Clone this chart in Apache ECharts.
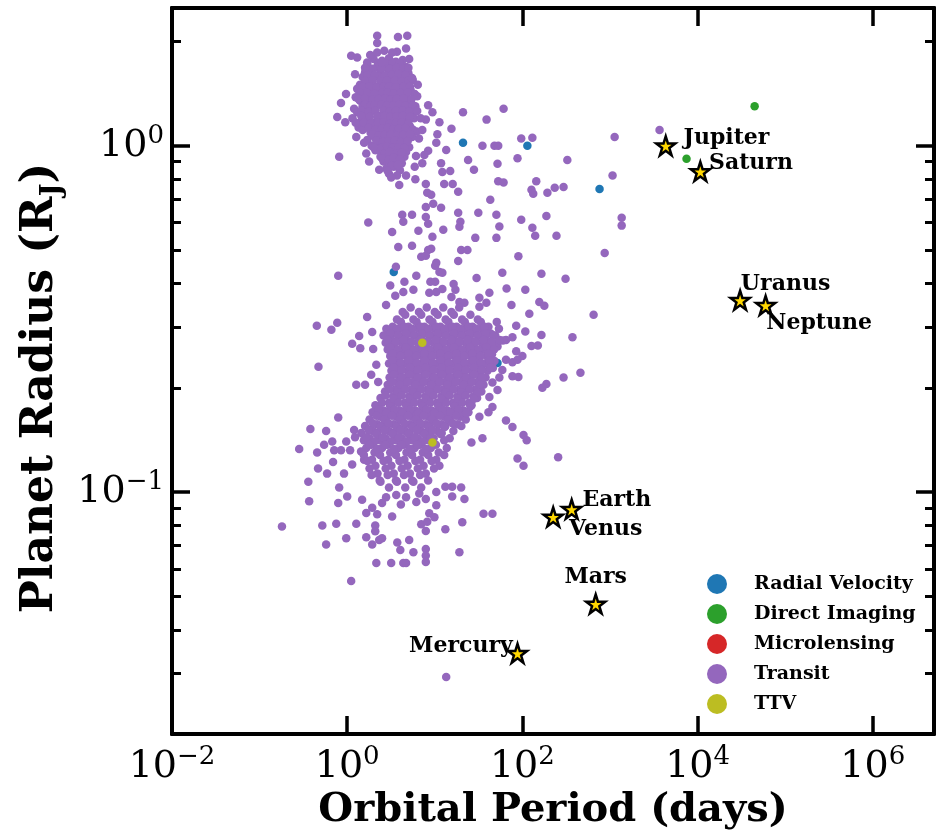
<!DOCTYPE html>
<html>
<head>
    <meta charset="UTF-8"/>
    <title>Planet radius vs orbital period</title>
    <style>
        html, body{
            margin: 0;
            background: #fff;
        }
    </style>
    <script src="https://cdn.jsdelivr.net/npm/echarts@6/dist/echarts.min.js"></script>
</head>
<body>
<div id="container" style="width: 937px;height: 838px;"></div>

<script>
  // axis ranges and ticks
  var xMin = 0.01, xMax = 5e6;
  var yMin = 0.02, yMax = 2.5;
  var xMajorTicks = [0.01, 1, 100, 1e4, 1e6];
  var yMajorTicks = [0.1, 1];
  var yMinorTicks = [0.02, 0.03, 0.04, 0.05, 0.06, 0.07, 0.08, 0.09, 0.2, 0.3, 0.4, 0.5, 0.6, 0.7, 0.8, 0.9, 2];

  var methodNames = ['Radial Velocity', 'Direct Imaging', 'Microlensing', 'Transit', 'TTV'];
  var methodColors = ['#1f77b4', '#2ca02c', '#d62728', '#9467bd', '#bcbd22'];

  // [period (days), radius (R_J)]
  var radialVelocity = [[21, 1.02], [114, 1.0], [760, 0.75], [3.4, 0.432], [52, 0.236]];
  var directImaging = [[44800, 1.30], [7480, 0.917]];
  var microlensing = [];
  var ttv = [[7.2, 0.27], [9.4, 0.139]];

  var transit = [
    // hot jupiters
    [2.0,1.78],[2.5,1.76],[3.0,1.79],[3.6,1.75],[4.3,1.77],
    [1.7,1.71],[2.2,1.69],[2.8,1.72],[3.3,1.68],[4.0,1.71],[4.7,1.69],
    [1.6,1.63],[1.9,1.66],[2.4,1.62],[3.0,1.65],[3.5,1.63],[4.2,1.66],[5.0,1.62],
    [1.5,1.58],[1.8,1.56],[2.2,1.59],[2.6,1.55],[3.2,1.58],[3.8,1.56],[4.5,1.59],[5.6,1.55],
    [1.4,1.5],[1.7,1.53],[2.0,1.49],[2.4,1.52],[2.9,1.5],[3.4,1.53],[4.1,1.49],[5.0,1.52],
    [1.3,1.46],[1.6,1.44],[1.9,1.47],[2.3,1.43],[2.7,1.46],[3.1,1.44],[3.7,1.47],[4.4,1.43],[5.3,1.45],
    [1.25,1.38],[1.5,1.41],[1.8,1.37],[2.1,1.4],[2.5,1.38],[2.9,1.41],[3.4,1.37],[4.0,1.4],[4.8,1.38],[5.9,1.41],
    [1.4,1.35],[1.7,1.33],[2.0,1.36],[2.3,1.32],[2.7,1.35],[3.2,1.33],[3.7,1.36],[4.4,1.32],[5.2,1.34],
    [1.2,1.28],[1.5,1.3],[1.85,1.27],[2.2,1.31],[2.6,1.28],[3.0,1.3],[3.5,1.27],[4.1,1.31],[4.9,1.28],[6.0,1.3],
    [1.3,1.25],[1.6,1.23],[1.9,1.26],[2.4,1.22],[2.8,1.25],[3.3,1.23],[3.9,1.26],[4.6,1.22],[5.5,1.24],
    [1.15,1.2],[1.45,1.18],[1.75,1.21],[2.1,1.17],[2.5,1.2],[2.9,1.18],[3.4,1.21],[4.0,1.17],[4.8,1.19],[5.8,1.2],
    [1.35,1.13],[1.65,1.15],[2.0,1.12],[2.35,1.16],[2.75,1.13],[3.2,1.15],[3.75,1.12],[4.4,1.16],[5.2,1.14],
    [1.5,1.11],[1.85,1.09],[2.2,1.12],[2.6,1.08],[3.0,1.11],[3.5,1.09],[4.1,1.12],[4.9,1.08],[6.2,1.1],
    [1.7,1.04],[2.05,1.06],[2.4,1.03],[2.8,1.07],[3.3,1.04],[3.9,1.06],[4.6,1.03],[5.5,1.06],
    [1.9,1.0],[2.3,1.02],[2.7,0.99],[3.1,1.02],[3.6,1.0],[4.3,1.02],[5.1,0.99],
    [2.1,0.97],[2.5,0.96],[2.9,0.98],[3.4,0.95],[4.0,0.97],[4.7,0.96],
    [2.4,0.93],[2.8,0.94],[3.2,0.92],[3.8,0.94],[4.5,0.93],
    [2.6,0.9],[3.1,0.89],[3.6,0.91],[4.2,0.89],
    [2.8,0.86],[3.4,0.87],[4.0,0.85],[3.0,0.83],[3.7,0.82],
    [2.25,1.735],[2.75,1.73],[3.3,1.74],[3.95,1.73],
    [1.95,1.67],[2.5,1.675],[3.05,1.665],[3.65,1.68],[4.35,1.67],
    [1.7,1.6],[2.05,1.605],[2.7,1.595],[3.25,1.6],[3.85,1.61],[4.6,1.6],
    [1.6,1.54],[1.95,1.545],[2.4,1.535],[2.85,1.54],[3.5,1.545],[4.2,1.535],[5.0,1.54],
    [1.5,1.48],[1.8,1.485],[2.15,1.475],[2.6,1.48],[3.0,1.485],[3.6,1.475],[4.4,1.48],[5.2,1.485],
    [1.4,1.42],[1.7,1.425],[2.05,1.415],[2.5,1.42],[2.9,1.425],[3.4,1.415],[4.1,1.42],[4.9,1.425],
    [1.35,1.365],[1.6,1.37],[1.95,1.36],[2.3,1.365],[2.7,1.37],[3.15,1.36],[3.7,1.365],[4.4,1.37],[5.4,1.36],
    [1.6,1.315],[1.85,1.305],[2.05,1.31],[2.45,1.315],[2.85,1.305],[3.35,1.31],[3.9,1.315],[4.6,1.305],[5.6,1.31],
    [1.45,1.265],[1.75,1.255],[2.1,1.26],[2.6,1.265],[3.05,1.255],[3.6,1.26],[4.3,1.265],[5.1,1.255],[6.3,1.26],
    [1.45,1.22],[1.8,1.21],[2.2,1.215],[2.65,1.22],[3.1,1.21],[3.65,1.215],[4.3,1.22],[5.2,1.21],
    [1.25,1.165],[1.55,1.17],[1.85,1.16],[2.25,1.165],[2.6,1.17],[3.05,1.16],[3.6,1.165],[4.2,1.17],[5.0,1.16],
    [1.75,1.125],[2.1,1.115],[2.5,1.12],[2.9,1.125],[3.35,1.115],[3.9,1.12],[4.6,1.125],[5.6,1.115],
    [1.95,1.08],[2.3,1.07],[2.7,1.075],[3.15,1.08],[3.7,1.07],[4.35,1.075],[5.2,1.08],
    [2.15,1.035],[2.55,1.025],[2.95,1.03],[3.5,1.035],[4.1,1.025],[4.9,1.03],
    [2.0,0.99],[2.45,0.985],[2.85,0.995],[3.3,0.985],[3.85,0.99],[4.5,0.985],
    [2.65,0.95],[3.05,0.96],[3.6,0.95],[4.2,0.955],
    [2.5,0.92],[3.0,0.915],[3.4,0.925],[4.0,0.915],
    [3.2,0.875],[3.8,0.88],[2.9,0.845],
    // around the hot jupiters
    [2.2,2.08],[3.8,2.06],[4.85,2.08],[2.2,1.98],[3.7,1.87],[4.7,1.91],[1.11,1.82],[1.3,1.8],[1.83,1.83],
    [2.2,1.86],[2.65,1.88],[3.26,1.86],[1.69,1.74],[2.5,1.74],[5.1,1.78],[1.23,1.61],[1.6,1.68],[5.5,1.57],
    [5.0,1.68],[0.97,1.41],[0.85,1.33],[0.77,1.21],[0.95,1.17],[0.81,0.93],[1.27,1.06],[1.56,1.02],[1.65,0.95],
    [1.78,0.9],[2.32,0.853],[3.18,0.81],[3.93,0.77],[4.7,0.82],[6.0,0.8],[7.9,0.776],[11.8,0.89],[15,0.846],
    [7.2,0.89],[6.1,0.935],[13.5,0.973],[24,0.91],[28,0.853],[15.5,1.12],[21,1.25],[11.3,1.17],[10.7,1.08],
    [9.4,1.25],[8.4,1.31],[7.9,1.19],[10.4,1.02],[8.4,0.967],[7.2,1.11],[6.3,1.39],[7.6,0.94],[12.2,0.84],
    [12.8,0.776],[16,0.776],[6.9,1.2],[6.6,1.05],[6.4,1.5],[5.9,0.87],
    // long period scatter
    [61,1.28],[39,1.19],[97,1.05],[130,1.055],[35,1.0],[48,1.0],[53,1.0],[1130,1.06],[88,0.92],[326,0.91],
    [52,0.887],[1070,0.82],[53,0.79],[61,0.783],[144,0.79],[127,0.746],[133,0.727],[193,0.732],[234,0.756],
    [295,0.76],[43,0.698],[54.6,0.585],[97,0.611],[188,0.627],[130,0.58],[140,0.55],[245,0.55],[1360,0.62],
    [1360,0.588],[90,0.48],[870,0.49],[30,0.415],[59,0.43],[165,0.427],[311,0.413],[66,0.387],[108,0.384],
    [156,0.354],[178,0.345],[120,0.327],[650,0.325],[85,0.302],[108,0.291],[165,0.284],[373,0.28],[127,0.264],
    [150,0.265],[85,0.255],[100,0.247],[460,0.221],[295,0.214],[188,0.205],[169,0.2],[90,0.215],[77,0.216],
    [65,0.241],[77,0.237],[59,0.225],[3680,1.11],
    // between the two clusters
    [1.74,0.6],[3.26,0.564],[3.83,0.51],[5.5,0.514],[4.25,0.632],[4.37,0.603],[5.5,0.632],[6.5,0.568],
    [7.9,0.623],[8.4,0.595],[7.9,0.666],[9.6,0.68],[11.8,0.662],[9.4,0.546],[12.5,0.572],[8.4,0.5],[9.1,0.504],
    [7.0,0.478],[10.4,0.459],[18.5,0.465],[18.5,0.641],[19.6,0.603],[19.1,0.584],[31.4,0.641],[50.5,0.632],
    [29,0.542],[50.5,0.542],[20,0.5],[23.6,0.5],[8.2,0.732],[9.1,0.722],[18.5,0.736],
    [6.15,0.421],[0.79,0.421],[10.1,0.45],[11.3,0.432],[12.2,0.43],[16.4,0.399],[17.2,0.384],[4.37,0.378],
    [5.7,0.384],[3.54,0.369],[2.78,0.347],[8.65,0.376],[10.4,0.378],[12.2,0.386],[15.5,0.366],[19.1,0.354],
    [21.8,0.352],[32.3,0.364],[42,0.376],[32.3,0.343],[38.8,0.352],[75,0.347],[7.9,0.481],[3.6,0.447],
    [4.5,0.405],[3.1,0.395],[8.9,0.405],[10.1,0.405],
    // edges of the small planet cluster
    [1.69,0.32],[0.45,0.302],[0.66,0.294],[0.77,0.308],[1.14,0.268],[1.37,0.282],[1.41,0.26],[1.93,0.29],
    [1.98,0.259],[0.47,0.23],[1.27,0.204],[1.6,0.204],[2.26,0.208],[1.88,0.218],[2.15,0.233],[77,0.28],
    [65,0.275],[52,0.263],[88,0.241],[54.6,0.214],[45.5,0.207],[52,0.197],[42,0.188],[45.5,0.176],[41,0.17],
    [32.3,0.165],[65,0.161],[77,0.154],[103,0.146],[112,0.141],[35,0.143],[26.2,0.139],[88,0.125],[103,0.119],
    [36,0.0865],[45.5,0.0865],[20.6,0.0818],[13.2,0.078],[7.9,0.0771],[7.0,0.0807],[256,0.126],
    [0.38,0.152],[0.575,0.15],[0.79,0.164],[0.283,0.133],[0.454,0.13],[0.545,0.137],[0.675,0.14],[0.71,0.132],
    [0.85,0.132],[0.975,0.14],[1.2,0.151],[1.23,0.144],[1.08,0.132],[1.44,0.131],[1.56,0.124],[1.14,0.12],
    [0.92,0.113],[0.69,0.122],[0.59,0.113],[0.465,0.117],[0.36,0.107],[0.368,0.094],[0.81,0.103],[1.0,0.097],
    [0.79,0.093],[0.52,0.08],[0.75,0.081],[1.27,0.081],[0.575,0.0705],[0.975,0.0735],[1.65,0.074],[1.93,0.0705],
    [0.18,0.0795],[2.32,0.0727],[2.09,0.08],[2.2,0.0862],[1.93,0.09],[1.48,0.095],[1.65,0.087],[2.5,0.093],
    [2.78,0.0965],[3.26,0.085],[3.63,0.098],[4.1,0.092],[3.73,0.0715],[5.1,0.0727],[8.2,0.082],[8.65,0.0868],
    [10.4,0.0916],[9.9,0.0845],[6.15,0.0935],[7.9,0.0955],[13.2,0.1035],[15.8,0.1035],[20,0.103],[21.8,0.0955],
    [15.8,0.097],[10.4,0.1],[6.65,0.099],[4.7,0.0965],
    [2.09,0.077],[2.5,0.0735],[4.04,0.068],[5.7,0.067],[7.9,0.0685],[7.9,0.0655],[7.9,0.0628],[19.1,0.067],
    [2.15,0.0624],[3.18,0.0624],[4.37,0.0624],[4.7,0.0624],[1.11,0.0553],[13.5,0.0292],
    // small planet cluster body
    [4.3,.331],[5.3,.341],[6.6,.331],[8.1,.341],[10,.331],[12.5,.341],[15.5,.331],[19,.341],
    [3.7,.315],[4.6,.325],[5.7,.315],[7.0,.325],[8.7,.315],[10.8,.325],[13.3,.315],[16.5,.325],[20.5,.315],[25.5,.325],[31,.315],
    [3.3,.30],[4.1,.31],[5.0,.30],[6.2,.31],[7.6,.30],[9.4,.31],[11.6,.30],[14.3,.31],[17.7,.30],[22,.31],[27,.30],[33.5,.31],[41,.30],[51,.31],
    [2.8,.296],[3.5,.287],[4.3,.296],[5.3,.287],[6.5,.296],[8.0,.287],[9.9,.296],[12.2,.287],[15,.296],[18.6,.287],[23,.296],[28.5,.287],[35,.296],[43.5,.287],[54,.296],
    [2.6,.283],[3.2,.274],[3.9,.283],[4.8,.274],[5.9,.283],[7.3,.274],[9.0,.283],[11.1,.274],[13.7,.283],[17,.274],[21,.283],[26,.274],[32,.283],[39.5,.274],[49,.283],[60,.274],
    [2.75,.27],[3.4,.262],[4.2,.27],[5.2,.262],[6.4,.27],[7.9,.262],[9.7,.27],[12,.262],[14.8,.27],[18.3,.262],[22.6,.27],[28,.262],[34.5,.27],[42.5,.262],[52,.27],
    [2.9,.258],[3.6,.25],[4.4,.258],[5.5,.25],[6.8,.258],[8.4,.25],[10.3,.258],[12.7,.25],[15.7,.258],[19.4,.25],[24,.258],[29.5,.25],[36.5,.258],[45,.25],
    [3.1,.247],[3.8,.239],[4.7,.247],[5.8,.239],[7.2,.247],[8.9,.239],[11,.247],[13.5,.239],[16.7,.247],[20.6,.239],[25.4,.247],[31.4,.239],[39,.247],[48,.239],
    [3.0,.235],[3.7,.228],[4.5,.235],[5.6,.228],[6.9,.235],[8.5,.228],[10.5,.235],[13,.228],[16,.235],[19.8,.228],[24.5,.235],[30,.228],[37,.235],[46,.228],
    [3.2,.224],[3.9,.218],[4.9,.224],[6.0,.218],[7.4,.224],[9.2,.218],[11.3,.224],[14,.218],[17.2,.224],[21.3,.218],[26.3,.224],[32.5,.218],[40,.224],
    [3.05,.214],[3.75,.208],[4.6,.214],[5.7,.208],[7.1,.214],[8.7,.208],[10.8,.214],[13.3,.208],[16.4,.214],[20.3,.208],[25,.214],[31,.208],[38,.214],
    [2.9,.204],[3.55,.198],[4.4,.204],[5.4,.198],[6.7,.204],[8.3,.198],[10.2,.204],[12.6,.198],[15.6,.204],[19.2,.198],[23.7,.204],[29.3,.198],[36,.204],
    [2.7,.195],[3.35,.189],[4.15,.195],[5.1,.189],[6.3,.195],[7.8,.189],[9.6,.195],[11.9,.189],[14.7,.195],[18.1,.189],[22.4,.195],[27.6,.189],[34,.195],
    [2.4,.187],[3.0,.181],[3.7,.187],[4.55,.181],[5.6,.187],[6.9,.181],[8.6,.187],[10.6,.181],[13.1,.187],[16.1,.181],[19.9,.187],[24.6,.181],[30.4,.187],
    [2.1,.178],[2.6,.172],[3.2,.178],[4.0,.172],[4.9,.178],[6.0,.172],[7.4,.178],[9.2,.172],[11.3,.178],[14,.172],[17.3,.178],[21.3,.172],[26.3,.178],
    [1.95,.17],[2.4,.165],[2.95,.17],[3.65,.165],[4.5,.17],[5.55,.165],[6.85,.17],[8.45,.165],[10.4,.17],[12.9,.165],[15.9,.17],[19.6,.165],[24.2,.17],
    [1.8,.162],[2.2,.157],[2.75,.162],[3.4,.157],[4.2,.162],[5.2,.157],[6.4,.162],[7.9,.157],[9.7,.162],[12,.157],[14.8,.162],[18.3,.157],[22.6,.162],
    [1.6,.155],[1.97,.15],[2.45,.155],[3.0,.15],[3.7,.155],[4.6,.15],[5.7,.155],[7.0,.15],[8.7,.155],[10.7,.15],[13.2,.155],[16.3,.15],[20.1,.155],
    [1.45,.148],[1.8,.143],[2.2,.148],[2.75,.143],[3.4,.148],[4.2,.143],[5.15,.148],[6.4,.143],[7.9,.148],[9.7,.143],[12,.148],[14.8,.143],
    [1.55,.141],[1.9,.137],[2.35,.141],[2.9,.137],[3.6,.141],[4.45,.137],[5.5,.141],[6.8,.137],[8.4,.141],[10.3,.137],[12.8,.141],
    [1.65,.134],[2.05,.13],[2.5,.134],[3.1,.13],[3.85,.134],[4.75,.13],[5.9,.134],[7.3,.13],[9.0,.134],[11.1,.13],[13.7,.134],
    [1.55,.128],[1.92,.124],[2.37,.128],[2.93,.124],[3.6,.128],[4.5,.124],[5.5,.128],[6.8,.124],[8.4,.128],[10.4,.124],[12.8,.128],
    [1.7,.123],[2.1,.119],[2.6,.123],[3.2,.119],[3.95,.123],[4.9,.119],[6.0,.123],[7.45,.119],[9.2,.123],[11.3,.119],
    [1.8,.117],[2.22,.113],[2.75,.117],[3.4,.113],[4.2,.117],[5.2,.113],[6.4,.117],[7.9,.113],[9.8,.117],
    [1.9,.112],[2.35,.108],[2.9,.112],[3.6,.108],[4.45,.112],[5.5,.108],[6.8,.112],[8.4,.108],
    [2.4,.107],[3.0,.103],[3.7,.107],[4.6,.103],[5.7,.107],[7.0,.103],
    [3.7,.296],[4.5,.3],[5.55,.296],[6.9,.3],[8.45,.296],[10.4,.3],[12.9,.296],[15.9,.3],[19.7,.296],[24.4,.3],[30,.296],[37,.3],
    [3.1,.287],[3.8,.283],[4.7,.287],[5.8,.283],[7.1,.287],[8.7,.283],[10.8,.287],[13.3,.283],[16.5,.287],[20.3,.283],[25,.287],[31,.283],[38,.287],[47,.283],
    [2.9,.275],[3.6,.271],[4.4,.275],[5.4,.271],[6.7,.275],[8.3,.271],[10.2,.275],[12.6,.271],[15.6,.275],[19.2,.271],[23.7,.275],[29.3,.271],[36,.275],[44.5,.271],[55,.275],
    [3.1,.262],[3.8,.258],[4.7,.262],[5.8,.258],[7.2,.262],[8.8,.258],[10.9,.262],[13.5,.258],[16.6,.262],[20.5,.258],[25.3,.262],[31.4,.258],[38.8,.262],[47.5,.258],
    [3.3,.251],[4.05,.247],[5.0,.251],[6.15,.247],[7.6,.251],[9.4,.247],[11.6,.251],[14.3,.247],[17.6,.251],[21.8,.247],[26.9,.251],[33.2,.247],[41,.251],
    [3.3,.24],[4.1,.236],[5.05,.24],[6.25,.236],[7.7,.24],[9.5,.236],[11.7,.24],[14.5,.236],[17.9,.24],[22,.236],[27.3,.24],[33.7,.236],[42,.24],
    [3.4,.229],[4.2,.225],[5.2,.229],[6.4,.225],[7.9,.229],[9.7,.225],[12,.229],[14.8,.225],[18.3,.229],[22.6,.225],[28,.229],[34.5,.225],[43,.229],
    [3.4,.218],[4.2,.214],[5.2,.218],[6.4,.214],[7.9,.218],[9.8,.214],[12.1,.218],[14.9,.214],[18.4,.218],[22.8,.214],[28,.218],[34.7,.214],
    [3.25,.208],[4.0,.204],[4.9,.208],[6.05,.204],[7.5,.208],[9.2,.204],[11.4,.208],[14.1,.204],[17.4,.208],[21.5,.204],[26.5,.208],[32.8,.204],
    [3.05,.198],[3.75,.194],[4.6,.198],[5.7,.194],[7.05,.198],[8.7,.194],[10.8,.198],[13.3,.194],[16.4,.198],[20.3,.194],[25,.198],[31,.194],
    [2.75,.19],[3.4,.186],[4.2,.19],[5.2,.186],[6.4,.19],[7.9,.186],[9.7,.19],[12,.186],[14.8,.19],[18.3,.186],[22.6,.19],[28,.186],
    [2.5,.181],[3.1,.177],[3.85,.181],[4.75,.177],[5.85,.181],[7.2,.177],[8.9,.181],[11,.177],[13.5,.181],[16.7,.177],[20.6,.181],[25.5,.177],
    [2.3,.173],[2.8,.169],[3.45,.173],[4.25,.169],[5.25,.173],[6.5,.169],[8.0,.173],[9.9,.169],[12.2,.173],[15.1,.169],[18.6,.173],[23,.169],
    [2.15,.166],[2.65,.162],[3.25,.166],[4.0,.162],[4.95,.166],[6.1,.162],[7.5,.166],[9.3,.162],[11.5,.166],[14.2,.162],[17.5,.166],
    [1.95,.158],[2.4,.154],[2.95,.158],[3.65,.154],[4.5,.158],[5.55,.154],[6.85,.158],[8.5,.154],[10.5,.158],[13,.154],[16,.158],
    [1.75,.151],[2.15,.147],[2.65,.151],[3.3,.147],[4.05,.151],[5.0,.147],[6.2,.151],[7.6,.147],[9.4,.151],[11.6,.147],
    [1.65,.144],[2.05,.14],[2.55,.144],[3.15,.14],[3.9,.144],[4.8,.14],[5.9,.144],[7.3,.14],[9.0,.144],
    [1.8,.137],[2.2,.133],[2.75,.137],[3.4,.133],[4.2,.137],[5.2,.133],[6.4,.137],[7.9,.133]
  ];

  var planetNames = ['Mercury', 'Venus', 'Earth', 'Mars', 'Jupiter', 'Saturn', 'Uranus', 'Neptune'];
  var planetPeriods = [88.0, 224.7, 365.3, 687.0, 4331, 10747, 30589, 59800];
  var planetRadii = [0.0342, 0.0847, 0.0892, 0.0475, 1.0, 0.843, 0.358, 0.346];

  var serif = 'DejaVu Serif';
  var labelPlace = {
      Mercury: {position: 'left', offset: [11, -7]},
      Venus: {position: 'right', offset: [0, 12]},
      Earth: {position: 'right', offset: [-5, -9]},
      Mars: {position: 'top', offset: [0, 0]},
      Jupiter: {position: 'right', offset: [2, -7]},
      Saturn: {position: 'right', offset: [-7, -8]},
      Uranus: {position: 'right', offset: [-15, -16]},
      Neptune: {position: 'right', offset: [-15, 18]}
  };
  var starPath = 'path://M0,-10 L2.245,-3.09 L9.51,-3.09 L3.63,1.18 L5.88,8.09 L0,3.82 L-5.88,8.09 L-3.63,1.18 L-9.51,-3.09 L-2.245,-3.09 Z';

  function powLabel(v) {
      var e = Math.round(Math.log10(v));
      return '{b|10}{s|' + (e < 0 ? '\u2212' + (-e) : e) + '}';
  }
  var labelRich = {
      b: {fontFamily: serif, fontSize: 38, lineHeight: 46, color: '#000'},
      s: {fontFamily: serif, fontSize: 26, lineHeight: 34, verticalAlign: 'top', color: '#000'}
  };

  function frameAxis(type, pos, ticks, len, showLabel, extra) {
      var a = {
          type: 'log', logBase: 10, position: pos,
          min: type === 'x' ? xMin : yMin,
          max: type === 'x' ? xMax : yMax,
          axisLine: {show: true, onZero: false, lineStyle: {color: '#000', width: 4}},
          axisTick: {show: true, inside: true, length: len, customValues: ticks,
                     lineStyle: {color: '#000', width: len > 10 ? 3.5 : 3}},
          axisLabel: showLabel ? {show: true, customValues: ticks, formatter: powLabel, rich: labelRich,
                                  margin: type === 'x' ? 10 : 8} : {show: false},
          splitLine: {show: false},
          minorTick: {show: false},
          minorSplitLine: {show: false}
      };
      for (var k in extra) a[k] = extra[k];
      return a;
  }

  var dom = document.getElementById('container');
  var myChart = echarts.init(dom);

  var dotSeries = [radialVelocity, directImaging, microlensing, transit, ttv].map(function (d, i) {
      return {
          type: 'scatter', name: methodNames[i], data: d,
          symbolSize: 8.5, itemStyle: {color: methodColors[i], opacity: 1},
          emphasis: {disabled: true}, z: 2 + i
      };
  });

  var stars = {
      type: 'scatter', name: 'Solar System', z: 20,
      symbol: starPath, symbolSize: 19,
      itemStyle: {color: '#FFD700', borderColor: '#000', borderWidth: 2.5, opacity: 1},
      label: {show: true, formatter: '{b}', fontFamily: serif, fontWeight: 'bold', fontSize: 22, color: '#000'},
      emphasis: {disabled: true},
      data: planetNames.map(function (n, i) {
          return {name: n, value: [planetPeriods[i], planetRadii[i]], label: labelPlace[n]};
      })
  };

  var option = {
      animation: false,
      textStyle: {fontFamily: serif},
      grid: {left: 172, right: 3, top: 8, bottom: 104, containLabel: false, outerBoundsMode: 'none'},
      legend: {
          data: methodNames, orient: 'vertical', left: 707, top: 574,
          itemWidth: 50, itemHeight: 20, itemGap: 10, icon: 'circle', selectedMode: false,
          padding: 0,
          textStyle: {fontFamily: serif, fontWeight: 'bold', fontSize: 19, color: '#000', padding: [0, 0, 0, 7]}
      },
      xAxis: [
          frameAxis('x', 'bottom', xMajorTicks, 18, true, {
              name: 'Orbital Period (days)', nameLocation: 'middle', nameGap: 48,
              nameTextStyle: {fontFamily: serif, fontWeight: 'bold', fontSize: 40, color: '#000'}
          }),
          frameAxis('x', 'top', xMajorTicks, 18, false, {})
      ],
      yAxis: [
          frameAxis('y', 'left', yMajorTicks, 18, true, {
              name: '{t|Planet Radius (R}{j|J}{t|)}', nameLocation: 'middle', nameRotate: 90, nameGap: 104,
              nameTextStyle: {
                  fontFamily: serif, fontWeight: 'bold', fontSize: 44, color: '#000',
                  padding: [0, 34, 0, 0],
                  rich: {
                      t: {fontFamily: serif, fontWeight: 'bold', fontSize: 44, lineHeight: 52, color: '#000'},
                      j: {fontFamily: serif, fontWeight: 'bold', fontSize: 27, lineHeight: 30, verticalAlign: 'bottom', color: '#000'}
                  }
              }
          }),
          frameAxis('y', 'left', yMinorTicks, 9, false, {}),
          frameAxis('y', 'right', yMajorTicks, 18, false, {}),
          frameAxis('y', 'right', yMinorTicks, 9, false, {})
      ],
      series: dotSeries.concat([stars])
  };

  myChart.setOption(option);
</script>

</body>
</html>
